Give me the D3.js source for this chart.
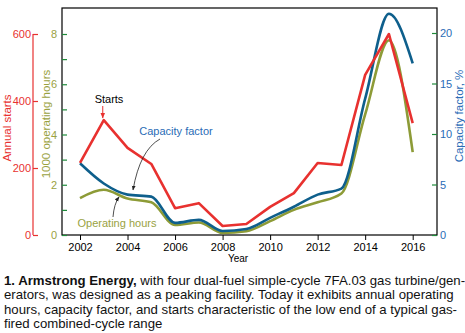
<!DOCTYPE html>
<html><head><meta charset="utf-8">
<script src="https://cdn.jsdelivr.net/npm/d3@7"></script>
<style>body{margin:0;background:#fff}svg{display:block}text{font-family:"Liberation Sans",Arial,sans-serif}</style>
</head><body><svg id="c" width="465" height="333"></svg>
<script>
const years = [2002,2003,2004,2005,2006,2007,2008,2009,2010,2011,2012,2013,2014,2015,2016];
const starts = [215,343,260,212,80,95,27,33,84,125,215,209,478,600,334];
const capacityFactor = [7.1,5.1,4.0,3.8,1.2,1.5,0.4,0.6,1.7,2.8,4.0,4.6,13.5,21.9,17.0];
const opHours = [1.47,1.8,1.45,1.3,0.4,0.5,0.08,0.15,0.55,1.0,1.3,1.65,4.8,7.75,3.3];
const xTicks = [2002,2004,2006,2008,2010,2012,2014,2016];
const startTicks = [0,200,400,600];
const hourTicks = [0,1,2,3,4,5,6,7,8];
const cfTicks = [0,5,10,15,20];

const RED="#e8312f", BLUE="#0e5f8c", OLIVE="#8d9b37", TXTBLUE="#2a6cb6", TXTOLIVE="#9aa23f", TICKG="#1f8a3b";
const svg=d3.select("#c");
const L=62,R=437,T=8,B=235;
const x=d3.scaleLinear().domain([2002,2016]).range([80,412.7]);
const yS=d3.scaleLinear().domain([0,600]).range([B,34]);
const yH=d3.scaleLinear().domain([0,8]).range([B,34]);
const yC=d3.scaleLinear().domain([0,20]).range([B,33]);

// frame
svg.append("rect").attr("x",L).attr("y",T).attr("width",R-L).attr("height",B-T).attr("fill","none").attr("stroke","#000").attr("stroke-width",1.2);

// x axis
const xa=svg.append("g").attr("transform",`translate(0,${B})`).call(d3.axisBottom(x).tickValues(xTicks).tickFormat(d3.format("d")).tickSize(5).tickPadding(3));
xa.select(".domain").remove();
xa.selectAll("text").attr("font-size",11).attr("fill","#000");
svg.append("text").attr("x",238).attr("y",262).attr("text-anchor","middle").attr("font-size",10).text("Year");

// starts axis (red)
const sa=svg.append("g").attr("transform","translate(33,0)").call(d3.axisLeft(yS).tickValues(startTicks).tickSize(-5).tickPadding(2));
sa.select(".domain").attr("stroke",RED).attr("d",`M0,${yS(600)}V${yS(0)}`).attr("stroke-width",1.2);
sa.selectAll(".tick line").attr("stroke",RED).attr("stroke-width",1.2);
sa.selectAll("text").attr("fill",RED).attr("font-size",11);
svg.append("text").attr("transform","translate(11,128) rotate(-90)").attr("text-anchor","middle").attr("font-size",11.5).attr("fill",RED).text("Annual starts");

// hours axis (olive)
const ha=svg.append("g").attr("transform",`translate(${L},0)`).call(d3.axisLeft(yH).tickValues(hourTicks).tickSize(-5).tickPadding(2).tickFormat(d=>d%2===0?d:""));
ha.select(".domain").remove();
ha.selectAll(".tick line").attr("stroke",TICKG).attr("stroke-width",1.2);
ha.selectAll("text").attr("fill",TXTOLIVE).attr("font-size",11).attr("x",-5);
svg.append("text").attr("transform","translate(50,124) rotate(-90)").attr("text-anchor","middle").attr("font-size",11.5).attr("fill",TXTOLIVE).text("1000 operating hours");

// capacity axis (right)
const ca=svg.append("g").attr("transform",`translate(${R},0)`).call(d3.axisRight(yC).tickValues(cfTicks).tickSize(-5).tickPadding(3));
ca.select(".domain").remove();
ca.selectAll(".tick line").attr("stroke",TICKG).attr("stroke-width",1.2).attr("x2",-5);
ca.selectAll("text").attr("fill",TXTBLUE).attr("font-size",11).attr("x",3);
svg.append("text").attr("transform","translate(463,116) rotate(-90)").attr("text-anchor","middle").attr("font-size",11.5).attr("fill",TXTBLUE).text("Capacity factor, %");

// lines
const lineOp=d3.line().x((d,i)=>x(years[i])).y(d=>yH(d)).curve(d3.curveMonotoneX);
const lineCf=d3.line().x((d,i)=>x(years[i])).y(d=>yC(d)).curve(d3.curveMonotoneX);
const lineSt=d3.line().x((d,i)=>x(years[i])).y(d=>yS(d));
svg.append("path").attr("d",lineOp(opHours)).attr("fill","none").attr("stroke",OLIVE).attr("stroke-width",2.6);
svg.append("path").attr("d",lineCf(capacityFactor)).attr("fill","none").attr("stroke",BLUE).attr("stroke-width",2.6);
svg.append("path").attr("d",lineSt(starts)).attr("fill","none").attr("stroke",RED).attr("stroke-width",2.6).attr("stroke-linejoin","round");

// annotations
const defs=svg.append("defs");
function mk(id,col){defs.append("marker").attr("id",id).attr("viewBox","0 0 10 10").attr("refX",9).attr("refY",5).attr("markerWidth",6).attr("markerHeight",6).attr("orient","auto").append("path").attr("d","M0,1L10,5L0,9Z").attr("fill",col);}
mk("ar","#e8312f");mk("ab","#222");
svg.append("text").attr("x",109).attr("y",103).attr("text-anchor","middle").attr("font-size",11).attr("fill","#000").text("Starts");
svg.append("line").attr("x1",x(2003)-1).attr("y1",106).attr("x2",x(2003)-1).attr("y2",118).attr("stroke",RED).attr("stroke-width",1).attr("marker-end","url(#ar)");
svg.append("text").attr("x",176).attr("y",135).attr("text-anchor","middle").attr("font-size",11).attr("fill",TXTBLUE).text("Capacity factor");
svg.append("path").attr("d","M160,139 Q140,150 133,190").attr("fill","none").attr("stroke","#222").attr("stroke-width",0.8).attr("marker-end","url(#ab)");
svg.append("text").attr("x",117).attr("y",227).attr("text-anchor","middle").attr("font-size",11).attr("fill",TXTOLIVE).text("Operating hours");
svg.append("path").attr("d","M113,217 Q114,204 119,197").attr("fill","none").attr("stroke","#222").attr("stroke-width",0.8).attr("marker-end","url(#ab)");

// caption
const cap=svg.append("text").attr("font-size",13.2).attr("fill","#111");
const lines=[
 [["1. Armstrong Energy,",true],[" with four dual-fuel simple-cycle 7FA.03 gas turbine/gen-",false]],
 [["erators, was designed as a peaking facility. Today it exhibits annual operating",false]],
 [["hours, capacity factor, and starts characteristic of the low end of a typical gas-",false]],
 [["fired combined-cycle range",false]]];
lines.forEach((ln,i)=>{
  ln.forEach((seg,j)=>{
    const ts=cap.append("tspan").text(seg[0]).attr("font-weight",seg[1]?"bold":"normal");
    if(j===0) ts.attr("x",4).attr("y",285+i*14.3);
  });
});
</script></body></html>
